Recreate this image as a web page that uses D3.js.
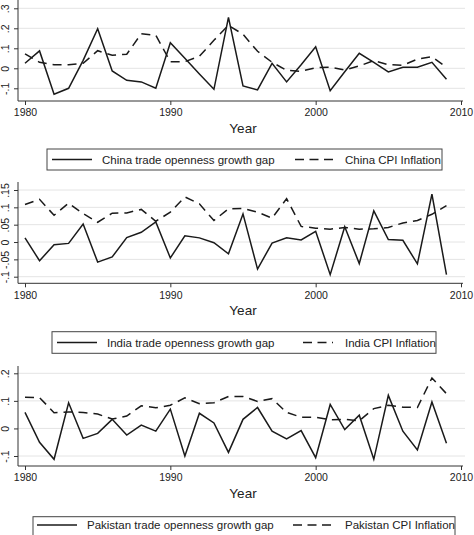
<!DOCTYPE html>
<html>
<head>
<meta charset="utf-8">
<script src="https://cdn.jsdelivr.net/npm/d3@7"></script>
<style>
  html, body { margin: 0; padding: 0; background: #fff; }
  svg { display: block; }
  text { font-family: "Liberation Sans", Arial, sans-serif; fill: #222; }
</style>
</head>
<body>
<svg id="chart" width="474" height="535"></svg>
<script>
// ---------- DATA ----------
const years = [1980,1981,1982,1983,1984,1985,1986,1987,1988,1989,
               1990,1991,1992,1993,1994,1995,1996,1997,1998,1999,
               2000,2001,2002,2003,2004,2005,2006,2007,2008,2009];
const xTicks = [1980, 1990, 2000, 2010];

const chinaGap = [0.025,0.087,-0.13,-0.10,0.04,0.198,-0.013,-0.06,-0.068,-0.10,
                  0.128,0.05,-0.028,-0.105,0.255,-0.088,-0.108,0.025,-0.068,0.018,
                  0.108,-0.112,-0.017,0.075,0.03,-0.018,0.005,0.005,0.03,-0.055];
const chinaCPI = [0.072,0.03,0.018,0.018,0.025,0.088,0.065,0.07,0.173,0.165,
                  0.033,0.033,0.06,0.14,0.215,0.17,0.085,0.03,-0.01,-0.015,
                  0.003,0.005,-0.008,0.012,0.038,0.018,0.015,0.046,0.058,0.005];
const chinaYTicks = [-0.1, 0, 0.1, 0.2, 0.3];
const chinaYLabels = ["-.1", "0", ".1", ".2", ".3"];

const indiaGap = [0.012,-0.054,-0.008,-0.004,0.052,-0.058,-0.043,0.013,0.028,0.058,
                  -0.046,0.018,0.012,-0.002,-0.034,0.081,-0.078,-0.003,0.012,0.006,
                  0.031,-0.094,0.044,-0.062,0.09,0.007,0.005,-0.063,0.138,-0.094];
const indiaCPI = [0.108,0.123,0.077,0.112,0.082,0.057,0.083,0.084,0.094,0.06,
                  0.086,0.13,0.11,0.062,0.096,0.097,0.086,0.069,0.125,0.045,
                  0.04,0.037,0.042,0.037,0.038,0.042,0.055,0.062,0.08,0.105];
const indiaYTicks = [-0.1, -0.05, 0, 0.05, 0.1, 0.15];
const indiaYLabels = ["-.1", "-.05", "0", ".05", ".1", ".15"];

const pakGap = [0.058,-0.05,-0.112,0.093,-0.036,-0.018,0.033,-0.024,0.012,-0.01,
                0.07,-0.1,0.055,0.02,-0.087,0.033,0.076,-0.01,-0.038,-0.008,
                -0.106,0.087,-0.004,0.048,-0.112,0.12,-0.01,-0.078,0.096,-0.054];
const pakCPI = [0.113,0.112,0.057,0.06,0.058,0.052,0.034,0.045,0.082,0.075,
                0.084,0.111,0.09,0.093,0.116,0.116,0.098,0.108,0.058,0.041,
                0.041,0.031,0.033,0.028,0.072,0.084,0.077,0.076,0.183,0.126];
const pakYTicks = [-0.1, 0, 0.1, 0.2];
const pakYLabels = ["-.1", "0", ".1", ".2"];

const gapLabels = ["China trade openness growth gap", "India trade openness growth gap", "Pakistan trade openness growth gap"];
const cpiLabels = ["China CPI Inflation", "India CPI Inflation", "Pakistan CPI Inflation"];
const xTitle = "Year";

// ---------- LAYOUT ----------
const svg = d3.select("#chart");
const x = d3.scaleLinear().domain([1980, 2010]).range([25, 461]);
const axisLeft = 18, gridRight = 465, axisRight = 463;
const dash = "9,6";

const panels = [
  { gap: chinaGap, cpi: chinaCPI, ticks: chinaYTicks, labels: chinaYLabels,
    yDom: [-0.1, 0.3], yRange: [88.3, 8.3], top: 0, bottom: 101,
    legend: { x0: 47, x1: 442, y0: 149, y1: 170, s0: 52, s1: 92, t0: 102, d0: 295, d1: 333, t1: 345 } },
  { gap: indiaGap, cpi: indiaCPI, ticks: indiaYTicks, labels: indiaYLabels,
    yDom: [-0.1, 0.15], yRange: [276.7, 190], top: 182, bottom: 283.3,
    legend: { x0: 52, x1: 436, y0: 331.7, y1: 353.3, s0: 57, s1: 97, t0: 107, d0: 303, d1: 333, t1: 345 } },
  { gap: pakGap, cpi: pakCPI, ticks: pakYTicks, labels: pakYLabels,
    yDom: [-0.1, 0.2], yRange: [456, 373.3], top: 366, bottom: 466,
    legend: { x0: 33, x1: 455, y0: 516.7, y1: 540, s0: 37, s1: 77, t0: 87, d0: 293, d1: 333, t1: 345 } }
];

panels.forEach((p, i) => {
  const y = d3.scaleLinear().domain(p.yDom).range(p.yRange);
  const g = svg.append("g");

  // grid
  g.selectAll("line.grid").data(p.ticks).join("line")
    .attr("x1", axisLeft).attr("x2", gridRight)
    .attr("y1", d => y(d)).attr("y2", d => y(d))
    .attr("stroke", "#e4e4e4").attr("stroke-width", 1);

  // y axis
  const yAxis = d3.axisLeft(y).tickValues(p.ticks).tickSize(4).tickFormat((d, k) => p.labels[k]);
  const ya = g.append("g").attr("transform", `translate(${axisLeft},0)`).call(yAxis);
  ya.select(".domain").remove();
  ya.selectAll(".tick line").attr("stroke", "#333");
  ya.selectAll(".tick text")
    .attr("x", null).attr("dy", null)
    .attr("transform", "translate(-9,0) rotate(-90)")
    .attr("text-anchor", "middle")
    .attr("dy", "0em")
    .style("font-size", "10.5px")
    .style("font-family", "'Liberation Sans', Arial, sans-serif")
    .attr("fill", "#222");
  g.append("line").attr("x1", axisLeft).attr("x2", axisLeft)
    .attr("y1", p.top).attr("y2", p.bottom).attr("stroke", "#333");

  // x axis
  const xAxis = d3.axisBottom(x).tickValues(xTicks).tickSize(4).tickFormat(d3.format("d"));
  const xa = g.append("g").attr("transform", `translate(0,${p.bottom})`).call(xAxis);
  xa.select(".domain").remove();
  xa.selectAll(".tick line").attr("stroke", "#333");
  xa.selectAll(".tick text").attr("y", 8).attr("dy", "0.71em")
    .style("font-size", "10.5px")
    .style("font-family", "'Liberation Sans', Arial, sans-serif")
    .attr("fill", "#222");
  g.append("line").attr("x1", axisLeft).attr("x2", axisRight)
    .attr("y1", p.bottom).attr("y2", p.bottom).attr("stroke", "#333");

  g.append("text").attr("x", 243).attr("y", p.bottom + 32)
    .attr("text-anchor", "middle").style("font-size", "13.5px").text(xTitle);

  // lines
  const line = vals => d3.line().x((d, k) => x(years[k])).y(d => y(d))(vals);
  g.append("path").attr("d", line(p.cpi)).attr("fill", "none")
    .attr("stroke", "#1a1a1a").attr("stroke-width", 1.5).attr("stroke-dasharray", dash);
  g.append("path").attr("d", line(p.gap)).attr("fill", "none")
    .attr("stroke", "#1a1a1a").attr("stroke-width", 1.5).attr("stroke-linejoin", "miter");

  // legend
  const L = p.legend, cy = (L.y0 + Math.min(L.y1, 532)) / 2;
  const ly = i === 2 ? 525 : cy;
  g.append("rect").attr("x", L.x0).attr("y", L.y0).attr("width", L.x1 - L.x0).attr("height", L.y1 - L.y0)
    .attr("fill", "#fff").attr("stroke", "#444").attr("stroke-width", 1);
  g.append("line").attr("x1", L.s0).attr("x2", L.s1).attr("y1", ly).attr("y2", ly)
    .attr("stroke", "#1a1a1a").attr("stroke-width", 1.5);
  g.append("line").attr("x1", L.d0).attr("x2", L.d1).attr("y1", ly).attr("y2", ly)
    .attr("stroke", "#1a1a1a").attr("stroke-width", 1.5).attr("stroke-dasharray", "9,5.5");
  g.append("text").attr("x", L.t0).attr("y", ly + 4.2).style("font-size", "11.5px").text(gapLabels[i]);
  g.append("text").attr("x", L.t1).attr("y", ly + 4.2).style("font-size", "11.5px").text(cpiLabels[i]);
});
</script>
</body>
</html>
